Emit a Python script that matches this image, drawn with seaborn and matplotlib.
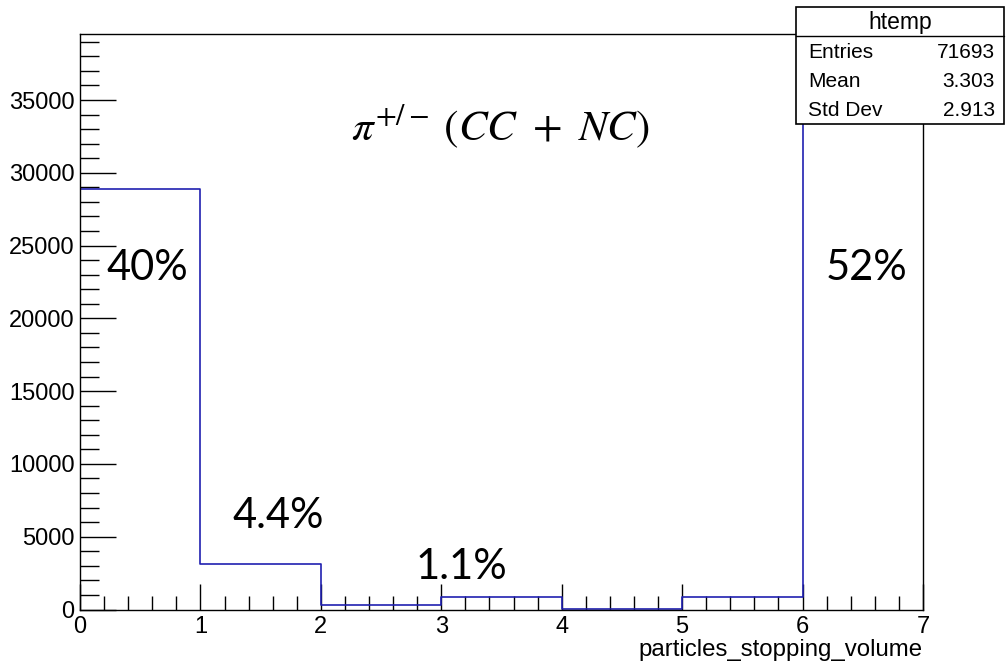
import numpy as np
import pandas as pd
import seaborn as sns
import matplotlib
matplotlib.use("Agg")
import matplotlib.pyplot as plt
from matplotlib.patches import Rectangle
from matplotlib.lines import Line2D
from matplotlib.ticker import MultipleLocator

# ---- data ----
bin_edges = [0, 1, 2, 3, 4, 5, 6, 7]
bin_values = [0, 1, 2, 3, 4, 5, 6]
bin_counts = [28870, 3160, 300, 825, 60, 825, 37653]
x_ticks = [0, 1, 2, 3, 4, 5, 6, 7]
y_ticks = [0, 5000, 10000, 15000, 20000, 25000, 30000, 35000]
pct_labels = ["40%", "4.4%", "1.1%", "52%"]
pct_pos = [(0.216, 22640), (1.262, 5600), (2.79, 2095), (6.19, 22640)]
stats_names = ["Entries", "Mean", "Std Dev"]
stats_vals = ["71693", "3.303", "2.913"]
hist_name = "htemp"
x_label = "particles_stopping_volume"
title_expr = r"$\pi^{+/-}\;(CC\ +\ NC)$"

sns.set_style("white")
plt.rcParams["font.family"] = ["Liberation Sans", "DejaVu Sans"]
plt.rcParams["mathtext.fontset"] = "stix"
plt.rcParams["text.color"] = "black"
plt.rcParams["xtick.color"] = "black"
plt.rcParams["ytick.color"] = "black"

W, H = 1006, 663
fig = plt.figure(figsize=(W / 100, H / 100), dpi=100)
L, R, B, T = 80, 923, 609.5, 34
ax = fig.add_axes([L / W, 1 - B / H, (R - L) / W, (B - T) / H])

df = pd.DataFrame({"v": bin_values, "w": bin_counts})
sns.histplot(data=df, x="v", weights="w", bins=bin_edges, element="step",
             fill=False, color="#2020b0", linewidth=1.2, ax=ax)

ymax = max(bin_counts) * 1.05
ax.set_xlim(0, 7)
ax.set_ylim(0, ymax)
ax.set_ylabel("")
ax.set_xlabel("")

for s in ax.spines.values():
    s.set_visible(True)
    s.set_color("black")
    s.set_linewidth(1.0)

ax.set_xticks(x_ticks)
ax.set_xticklabels([str(v) for v in x_ticks])
ax.set_yticks(y_ticks)
ax.set_yticklabels([str(v) for v in y_ticks])
ax.xaxis.set_minor_locator(MultipleLocator(0.2))
ax.yaxis.set_minor_locator(MultipleLocator(1000))
ax.tick_params(axis="x", which="major", direction="in", length=19, width=1,
               labelsize=17, pad=5, bottom=True, top=False, labelcolor="black")
ax.tick_params(axis="x", which="minor", direction="in", length=10, width=1,
               bottom=True, top=False)
ax.tick_params(axis="y", which="major", direction="in", length=26, width=1,
               labelsize=17, pad=4, left=True, right=False, labelcolor="black")
ax.tick_params(axis="y", which="minor", direction="in", length=14, width=1,
               left=True, right=False)

fig.text(R / W, 1 - 650 / H, x_label, ha="right", va="center", fontsize=17.3,
         color="black")

# annotations
for txt, (x, y) in zip(pct_labels, pct_pos):
    ax.text(x, y, txt, fontsize=30, family="Lato", ha="left", va="baseline",
            color="black")
ax.text(3.49, 32255, title_expr, fontsize=31, ha="center", va="baseline",
        color="black")

# stats box
bx0, bx1, by0, by1 = 796, 1004, 7, 124
fig.patches.append(Rectangle((bx0 / W, 1 - by1 / H), (bx1 - bx0) / W, (by1 - by0) / H,
                             transform=fig.transFigure, facecolor="white",
                             edgecolor="black", linewidth=1.2, zorder=5))
fig.lines.append(Line2D([bx0 / W, bx1 / W], [1 - 36 / H, 1 - 36 / H],
                        transform=fig.transFigure, color="black", linewidth=1.0, zorder=6))
fig.text((bx0 + bx1) / 2 / W, 1 - 22 / H, hist_name, ha="center", va="center",
         fontsize=16.5, color="black", zorder=7)
for i, (n, v) in enumerate(zip(stats_names, stats_vals)):
    yy = 1 - (53 + 28.5 * i) / H
    fig.text(808 / W, yy, n, ha="left", va="center", fontsize=15, color="black", zorder=7)
    fig.text(995 / W, yy, v, ha="right", va="center", fontsize=15, color="black", zorder=7)

fig.savefig("out.png", dpi=100)
